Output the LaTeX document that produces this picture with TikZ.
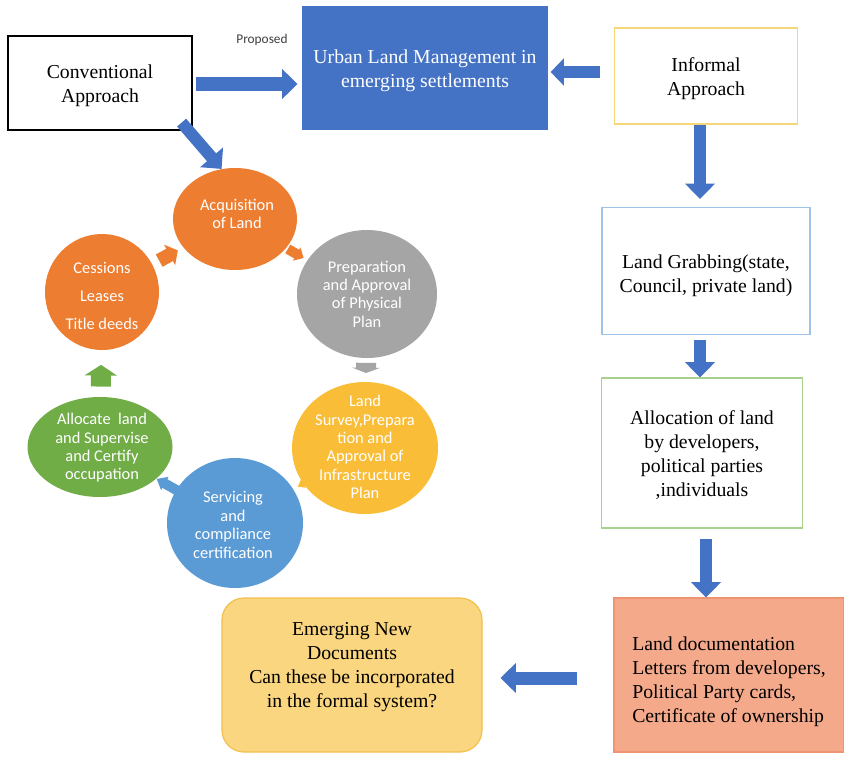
\documentclass[tikz,border=0pt]{standalone}
\usepackage{fontspec}
\setmainfont{Liberation Serif}
\newfontfamily\tnr{Liberation Serif}
\newfontfamily\calib{Carlito}
\usetikzlibrary{arrows.meta,shapes.geometric,calc}
\newdimen\pxu \pxu=0.75pt
\definecolor{ublue}{HTML}{4472C4}
\definecolor{iyellow}{HTML}{F5D77A}
\definecolor{gblue}{HTML}{9DC3E6}
\definecolor{agreen}{HTML}{A9D18E}
\definecolor{salmon}{HTML}{F5A98B}
\definecolor{salmonedge}{HTML}{EE9473}
\definecolor{eyellow}{HTML}{FAD680}
\definecolor{eedge}{HTML}{F2C04C}
\definecolor{corange}{HTML}{ED7D31}
\definecolor{cgrey}{HTML}{A5A5A5}
\definecolor{cyellow}{HTML}{F9BD38}
\definecolor{cblue}{HTML}{5B9BD5}
\definecolor{cgreen}{HTML}{70AD47}
\definecolor{propgrey}{HTML}{404040}
\tikzset{
  sbox/.style={rectangle, inner sep=0pt, align=center, line width=1.2\pxu,
    font=\tnr\fontsize{14.8}{18}\selectfont},
  stext/.style={inner sep=0pt, align=center, font=\tnr\fontsize{14.8}{18}\selectfont},
  circ/.style={ellipse, inner sep=0pt, draw=none},
  ctext/.style={text=white, align=center, inner sep=0pt,
    font=\calib\fontsize{12.3}{13.8}\selectfont},
  barrow/.style={draw=ublue, line width=12\pxu,
    -{Triangle[length=11.5pt, width=22pt]}}
}
\begin{document}
\begin{tikzpicture}[x=0.75pt,y=-0.75pt]
\useasboundingbox (0,0) rectangle (844,758);
\fill[white] (0,0) rectangle (844,758);

% boxes
\node[sbox, draw=black, minimum width=184\pxu, minimum height=94\pxu] (conv) at (100,83) {};
\node[stext] (convt) at (100,86) {Conventional\\Approach};
\node[sbox, fill=ublue, minimum width=246\pxu, minimum height=124\pxu] (urban) at (425,68) {};
\node[stext, text=white] (urbant) at (425,71) {Urban Land Management in\\emerging settlements};
\node[sbox, draw=iyellow, minimum width=183\pxu, minimum height=96\pxu] (informal) at (706,76) {};
\node[stext] (informalt) at (706,79) {Informal\\Approach};
\node[sbox, draw=gblue, minimum width=208\pxu, minimum height=127\pxu] (grab) at (706,271) {};
\node[stext] (grabt) at (706,276) {Land Grabbing(state,\\Council, private land)};
\node[sbox, draw=agreen, minimum width=201\pxu, minimum height=150\pxu] (alloc) at (702,453) {};
\node[stext] (alloct) at (702,455) {Allocation of land\\by developers,\\political parties\\,individuals};
\node[sbox, fill=salmon, draw=salmonedge, minimum width=230\pxu, minimum height=154\pxu] (doc) at (729,675) {};
\node[stext, align=left] (doct) at (729,682) {Land documentation\\Letters from developers,\\Political Party cards,\\Certificate of ownership};
\node[sbox, fill=eyellow, draw=eedge, rounded corners=22\pxu, minimum width=260\pxu, minimum height=154\pxu] (emerg) at (352,675) {};
\node[stext] (emergt) at (352,667) {Emerging New\\Documents\\Can these be incorporated\\in the formal system?};

\node[font=\calib\fontsize{10}{11}\selectfont, text=propgrey, inner sep=0pt] (prop) at (262,40) {Proposed};

% cycle circles
\node[circ, fill=corange, minimum width=124\pxu, minimum height=102\pxu] (acq) at (235,219) {};
\node[circ, fill=corange, minimum width=114\pxu, minimum height=116\pxu] (cess) at (102,292) {};
\node[circ, fill=cgrey, minimum width=140\pxu, minimum height=128\pxu] (prep) at (367,294) {};
\node[circ, fill=cyellow, minimum width=146\pxu, minimum height=132\pxu] (survey) at (365,448) {};
\node[circ, fill=cblue, minimum width=136\pxu, minimum height=130\pxu] (serv) at (235,523) {};
\node[circ, fill=cgreen, minimum width=145\pxu, minimum height=100\pxu] (allc) at (100,447) {};

\node[ctext] (acqt) at (237,214) {Acquisition\\of Land};
\node[ctext] (cesst) at (102,296) {Cessions\\[7pt]Leases\\[7pt]Title deeds};
\node[ctext] (prept) at (367,294) {Preparation\\and Approval\\of Physical\\Plan};
\node[ctext] (survt) at (365,447) {Land\\Survey,Prepara\\tion and\\Approval of\\Infrastructure\\Plan};
\node[ctext] (servt) at (233,525) {Servicing\\and\\compliance\\certification};
\node[ctext] (allct) at (102,448) {Allocate~ land\\and Supervise\\and Certify\\occupation};

% cycle arrows
\draw[draw=corange, line width=14\pxu, -{Triangle[length=7pt, width=17pt]}]
  ($(cess)!0.43!(acq)$) -- ($(cess)!0.57!(acq)$);
\draw[draw=corange, line width=10\pxu, -{Triangle[length=6pt, width=11pt]}]
  ($(acq)!0.40!(prep)$) -- ($(acq)!0.52!(prep)$);
\draw[draw=cgrey, line width=20\pxu, -{Triangle[length=4pt, width=21pt]}]
  ($(prep)!0.447!(survey)$) -- ($(prep)!0.513!(survey)$);
\draw[draw=cyellow, line width=6\pxu, -{Triangle[length=5pt, width=7pt]}]
  ($(survey)!0.383!(serv)$) -- ($(survey)!0.517!(serv)$);
\draw[draw=cblue, line width=10\pxu, -{Triangle[length=7pt, width=11pt]}]
  ($(serv)!0.42!(allc)$) -- ($(serv)!0.58!(allc)$);
\draw[draw=cgreen, line width=20\pxu, -{Triangle[length=8pt, width=24pt]}]
  ($(allc)!0.39!(cess)$) -- ($(allc)!0.53!(cess)$);

% blue block arrows
\draw[barrow, line width=14\pxu, shorten <=3\pxu, shorten >=4\pxu]
  ([yshift=-1\pxu]conv.east) -- ([yshift=-1\pxu]conv.east -| urban.west);
\draw[barrow, shorten <=14\pxu, shorten >=2\pxu, -{Triangle[length=10pt, width=20pt]}]
  ([yshift=4\pxu]informal.west) -- ([yshift=4\pxu]informal.west -| urban.east);
\draw[barrow, shorten >=8\pxu]
  ([xshift=-6\pxu]informal.south) -- ([xshift=-6\pxu]informal.south |- grab.north);
\draw[barrow, shorten <=5\pxu]
  ([xshift=-6\pxu]grab.south) -- ([xshift=-6\pxu]grab.south |- alloc.north);
\draw[barrow, shorten <=10\pxu]
  ([xshift=4\pxu]alloc.south) -- ([xshift=4\pxu]alloc.south |- doc.north);
\draw[barrow, line width=13\pxu, shorten <=36\pxu, shorten >=18\pxu]
  ([yshift=-3\pxu]doc.west) -- ([yshift=-3\pxu]doc.west -| emerg.east);
\draw[barrow] ([shift={(-11,-8)}]conv.south east) -- (acq.105);
\end{tikzpicture}
\end{document}
